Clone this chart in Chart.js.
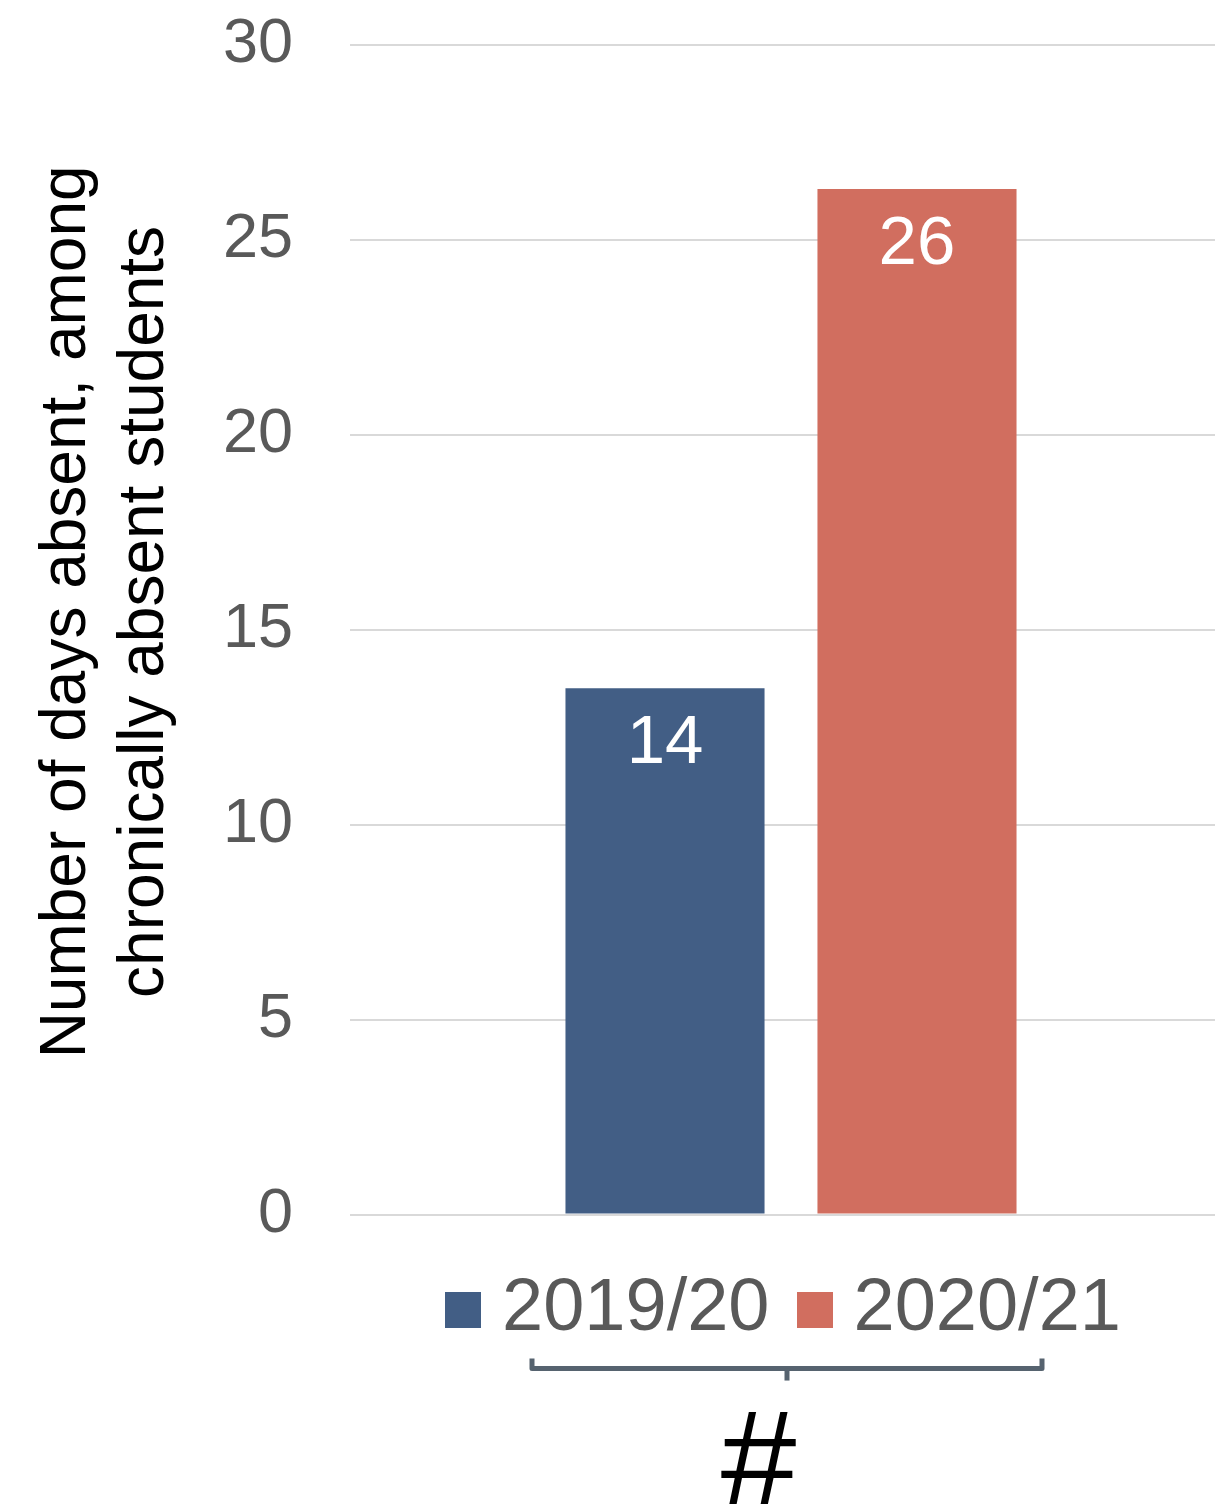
<!DOCTYPE html>
<html>
<head>
<meta charset="utf-8">
<script src="https://cdn.jsdelivr.net/npm/chart.js@4.4.1/dist/chart.umd.min.js"></script>
<style>
  html, body { margin: 0; padding: 0; background: #fff; overflow: hidden; }
  canvas { display: block; }
</style>
</head>
<body>
<canvas id="absentChart" width="1232" height="1504"></canvas>
<script>
const categories = ["#"];
const seriesNames = ["2019/20", "2020/21"];
const days201920 = [13.5];
const days202021 = [26.3];
const yTicks = [0, 5, 10, 15, 20, 25, 30];

const colors = ["#425e85", "#d16e5f"];
const font = "'Liberation Sans', Arial, sans-serif";

// square swatches for the legend, drawn as point style images
function swatch(color) {
  let c = document.createElement("canvas");
  c.width = 36;
  c.height = 36;
  let g = c.getContext("2d");
  g.fillStyle = color;
  g.fillRect(0, 0, 36, 36);
  return c;
}
const swatches = colors.map(swatch);

// value labels inside the top of each bar
const barLabels = {
  id: "barLabels",
  afterDatasetsDraw(chart) {
    const ctx = chart.ctx;
    ctx.save();
    ctx.fillStyle = "#ffffff";
    ctx.font = "69px " + font;
    ctx.textAlign = "center";
    ctx.textBaseline = "middle";
    chart.data.datasets.forEach((ds, i) => {
      chart.getDatasetMeta(i).data.forEach((bar, j) => {
        ctx.fillText(String(Math.round(ds.data[j])), bar.x, bar.y + 56);
      });
    });
    ctx.restore();
  },
};

// brace under the legend grouping both seasons
const bracket = {
  id: "bracket",
  afterDraw(chart) {
    const ctx = chart.ctx;
    const area = chart.chartArea;
    const cx = (area.left + area.right) / 2 - 4;
    const y = chart.legend.bottom + 12;
    const half = 255;
    ctx.save();
    ctx.strokeStyle = "#56636f";
    ctx.lineWidth = 5;
    ctx.lineJoin = "round";
    ctx.beginPath();
    ctx.moveTo(cx - half, y - 10);
    ctx.lineTo(cx - half, y);
    ctx.lineTo(cx + half, y);
    ctx.lineTo(cx + half, y - 10);
    ctx.stroke();
    ctx.beginPath();
    ctx.moveTo(cx, y);
    ctx.lineTo(cx, y + 12);
    ctx.stroke();
    ctx.restore();
  },
};

const data = {
  labels: categories,
  datasets: [
    {
      label: seriesNames[0],
      data: days201920,
      backgroundColor: colors[0],
      categoryPercentage: 0.5714,
      barPercentage: 0.79,
    },
    {
      label: seriesNames[1],
      data: days202021,
      backgroundColor: colors[1],
      categoryPercentage: 0.5714,
      barPercentage: 0.79,
    },
  ],
};

const config = {
  type: "bar",
  data: data,
  plugins: [barLabels, bracket],
  options: {
    responsive: false,
    animation: false,
    layout: { padding: 0 },
    scales: {
      x: {
        grid: { display: false },
        border: { display: false },
        ticks: { display: false },
        afterFit(scale) {
          scale.height = 15;
        },
      },
      y: {
        min: 0,
        max: 30,
        afterFit(scale) {
          scale.width = 350;
        },
        afterBuildTicks(scale) {
          scale.ticks = yTicks.map((v) => ({ value: v }));
        },
        grid: {
          color: "#d9d9d9",
          lineWidth: 2,
          drawTicks: true,
          tickLength: 50,
          tickColor: "rgba(0,0,0,0)",
        },
        border: { display: false },
        ticks: {
          padding: 7,
          color: "#595959",
          font: { family: font, size: 63 },
        },
        title: {
          display: true,
          text: ["  Number of days absent, among", "  chronically absent students"],
          color: "#000000",
          font: { family: font, size: 64, lineHeight: 1.22 },
          padding: { top: 28, bottom: 0 },
        },
      },
    },
    plugins: {
      legend: {
        position: "bottom",
        fullSize: false,
        labels: {
          usePointStyle: true,
          pointStyleWidth: 4,
          boxHeight: 36,
          padding: 43,
          color: "#595959",
          font: { family: font, size: 74 },
          generateLabels(chart) {
            const items = Chart.defaults.plugins.legend.labels.generateLabels(chart);
            items.forEach((item, i) => {
              item.pointStyle = swatches[i];
            });
            return items;
          },
        },
      },
      title: {
        display: true,
        position: "bottom",
        fullSize: false,
        text: categories[0] + " \u2009",
        color: "#000000",
        font: { family: font, size: 136, weight: "normal", lineHeight: 0.54 },
        padding: { top: 74, bottom: 0 },
      },
      tooltip: { enabled: false },
    },
  },
};

var myChart = new Chart(document.getElementById("absentChart"), config);
</script>
</body>
</html>
